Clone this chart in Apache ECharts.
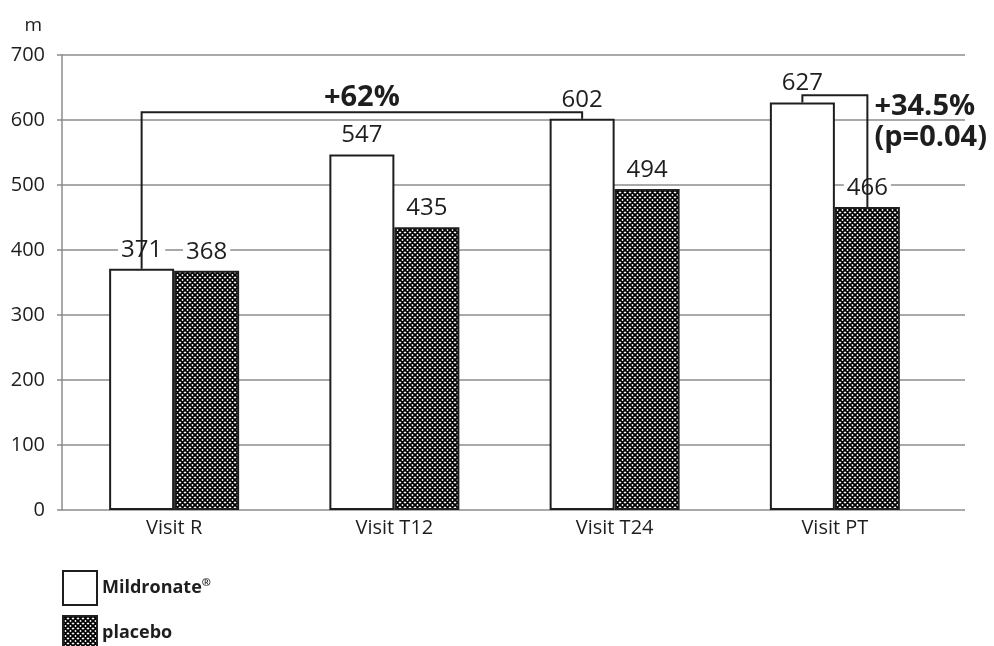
<!DOCTYPE html>
<html>
<head>
<meta charset="utf-8">
<script src="https://cdn.jsdelivr.net/npm/echarts@6/dist/echarts.min.js"></script>
<style>
  html, body { margin: 0; padding: 0; background: #fff; }
  #chart { width: 994px; height: 646px; }
</style>
</head>
<body>
<div id="chart"></div>
<script>
// data
const categories = ['Visit R', 'Visit T12', 'Visit T24', 'Visit PT'];
const mildronate = [371, 547, 602, 627];
const placebo = [368, 435, 494, 466];
const yTicks = [0, 100, 200, 300, 400, 500, 600, 700];

// brackets: [categoryIndex, seriesIndex] at each end, level of the top line, text
const bracketFrom = [[0, 0], [3, 0]];
const bracketTo = [[2, 0], [3, 1]];
const bracketLevel = [612, 638];
const bracketText = ['+62%', '+34.5%\n(p=0.04)'];

const seriesValues = [mildronate, placebo];
const FONT = '"Open Sans", "Noto Sans", sans-serif';
const INK = '#1e1e1e';
const BAR_W = 65;

function hatchPattern() {
  const n = 5;
  const c = document.createElement('canvas');
  c.width = n;
  c.height = n;
  const g = c.getContext('2d');
  g.fillStyle = '#fff';
  g.fillRect(0, 0, n, n);
  g.strokeStyle = '#000';
  g.lineWidth = 1.9;
  g.beginPath();
  for (let k = -n; k <= n; k += n) {
    g.moveTo(-1, -1 + k);
    g.lineTo(n + 1, n + 1 + k);
    g.moveTo(n + 1, -1 + k);
    g.lineTo(-1, n + 1 + k);
  }
  g.stroke();
  return c;
}

function barTop(api, end) {
  const cat = end[0];
  const s = end[1];
  const p = api.coord([cat, seriesValues[s][cat]]);
  return [p[0] + (s === 0 ? -1 : 1) * BAR_W / 2, p[1]];
}

function renderBracket(params, api) {
  const i = params.dataIndex;
  const a = barTop(api, bracketFrom[i]);
  const b = barTop(api, bracketTo[i]);
  const top = api.coord([0, bracketLevel[i]])[1];
  const sameGroup = bracketFrom[i][0] === bracketTo[i][0];
  const text = sameGroup
    ? { x: b[0] + 7, y: top - 4, align: 'left', verticalAlign: 'top' }
    : { x: (a[0] + b[0]) / 2, y: top + 1, align: 'center', verticalAlign: 'bottom' };
  return {
    type: 'group',
    children: [
      {
        type: 'polyline',
        shape: { points: [a, [a[0], top], [b[0], top], b] },
        style: { stroke: INK, lineWidth: 2, fill: null }
      },
      {
        type: 'text',
        style: Object.assign({
          text: bracketText[i],
          font: 'bold 29px ' + FONT,
          lineHeight: 31,
          fill: INK
        }, text)
      }
    ]
  };
}

const chart = echarts.init(document.getElementById('chart'));
const hatch = { image: hatchPattern(), repeat: 'repeat' };

const valueLabel = {
  show: true,
  position: 'top',
  distance: 7,
  fontFamily: FONT,
  fontSize: 24,
  color: INK,
  backgroundColor: '#fff',
  padding: [0, 3]
};

const legendBase = {
  orient: 'vertical',
  left: 62,
  padding: 0,
  itemWidth: 34,
  itemHeight: 34,
  icon: 'rect',
  itemStyle: { borderColor: INK, borderWidth: 2 },
  formatter: function (name) {
    return name === 'Mildronate' ? '{b|Mildronate}{sup|®}' : '{b|' + name + '}';
  },
  textStyle: {
    rich: {
      b: { fontFamily: FONT, fontWeight: 'bold', fontSize: 18, color: INK },
      sup: { fontFamily: FONT, fontWeight: 'bold', fontSize: 11, color: INK, verticalAlign: 'top', padding: [0, 0, 10, 0] }
    }
  }
};

chart.setOption({
  animation: false,
  textStyle: { fontFamily: FONT },
  grid: [
    { left: 62, right: 29, top: 55, bottom: 136 },
    { left: 64, right: 49, top: 55, bottom: 136 }
  ],
  legend: [
    Object.assign({}, legendBase, { data: ['Mildronate'], top: 570 }),
    Object.assign({}, legendBase, { data: ['placebo'], top: 615 })
  ],
  xAxis: [
    { type: 'value', gridIndex: 0, min: 0, max: 1, show: false },
    {
      type: 'category',
      gridIndex: 1,
      data: categories,
      axisLine: { show: false },
      axisTick: { show: false },
      axisLabel: { fontSize: 20, color: INK, margin: 8 }
    }
  ],
  yAxis: [
    {
      type: 'value',
      gridIndex: 0,
      min: 0,
      max: 700,
      interval: 100,
      name: 'm',
      nameGap: 20,
      nameTextStyle: { fontSize: 19, color: INK, align: 'right', padding: [0, 20, 0, 0] },
      axisLine: { show: true, lineStyle: { color: '#8c8c8c', width: 1.5 } },
      axisTick: { show: true, length: 5, lineStyle: { color: '#8c8c8c', width: 1.5 } },
      axisLabel: {
        fontSize: 20,
        color: INK,
        margin: 17,
        formatter: function (v) { return yTicks.indexOf(v) >= 0 ? String(v) : ''; }
      },
      splitLine: { show: true, lineStyle: { color: '#8c8c8c', width: 1.5 } }
    },
    { type: 'value', gridIndex: 1, min: 0, max: 700, show: false }
  ],
  series: [
    {
      name: 'Mildronate',
      type: 'bar',
      xAxisIndex: 1,
      yAxisIndex: 1,
      barWidth: BAR_W,
      barGap: '0%',
      data: mildronate,
      itemStyle: { color: '#fff', borderColor: INK, borderWidth: 2 },
      label: valueLabel
    },
    {
      name: 'placebo',
      type: 'bar',
      xAxisIndex: 1,
      yAxisIndex: 1,
      barWidth: BAR_W,
      barGap: '0%',
      data: placebo,
      itemStyle: { color: hatch, borderColor: INK, borderWidth: 2 },
      label: valueLabel
    },
    {
      type: 'custom',
      xAxisIndex: 1,
      yAxisIndex: 1,
      z: 5,
      clip: false,
      silent: true,
      renderItem: renderBracket,
      data: bracketText.map(function (t, i) { return [i, 0]; })
    }
  ]
});
</script>
</body>
</html>
